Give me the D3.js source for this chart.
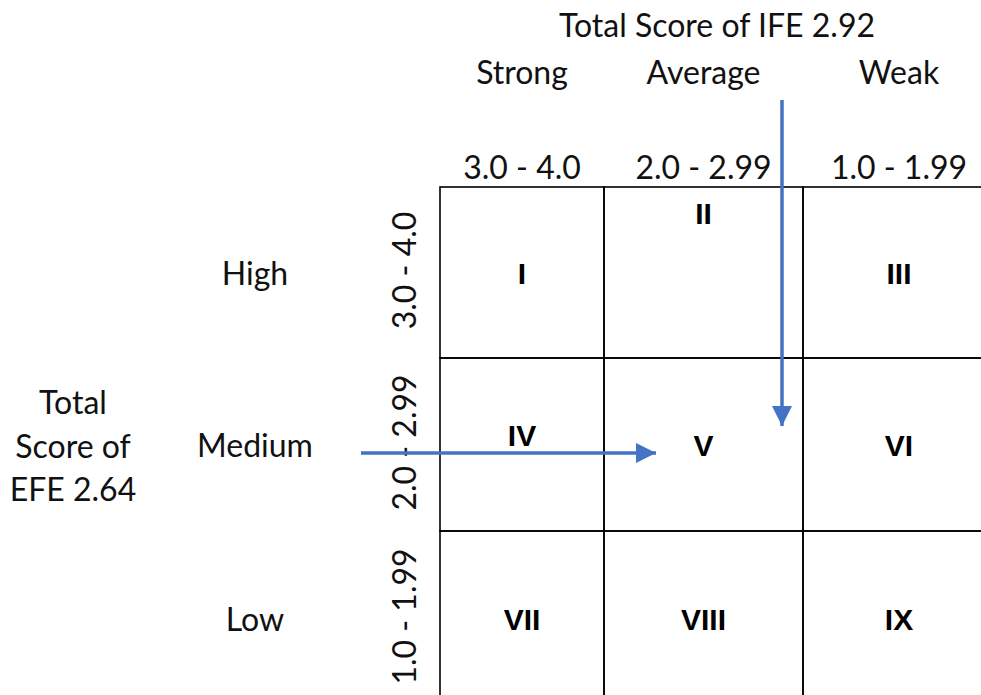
<!DOCTYPE html>
<html>
<head>
<meta charset="utf-8">
<script src="https://cdn.jsdelivr.net/npm/d3@7"></script>
<style>
  html, body { margin: 0; padding: 0; background: #fff; overflow: hidden; }
  svg { display: block; }
  .lbl { font-family: Lato, "Open Sans", sans-serif; font-size: 32px; fill: #111; }
  .num { font-family: "Liberation Sans", Arial, sans-serif; font-weight: bold; font-size: 30px; fill: #000; }
</style>
</head>
<body>
<svg id="chart" width="981" height="695"></svg>
<script>
// IFE (columns) and EFE (rows) bands
const colNames = ['Strong', 'Average', 'Weak'];
const colLow = [3.0, 2.0, 1.0];
const colLabels = ['3.0 - 4.0', '2.0 - 2.99', '1.0 - 1.99'];
const rowNames = ['High', 'Medium', 'Low'];
const rowLow = [3.0, 2.0, 1.0];
const rowLabels = ['3.0 - 4.0', '2.0 - 2.99', '1.0 - 1.99'];
const cellNames = [
  ['I', 'II', 'III'],
  ['IV', 'V', 'VI'],
  ['VII', 'VIII', 'IX']
];
const ifeTitle = 'Total Score of IFE 2.92';
const efeTitle = ['Total', 'Score of', 'EFE 2.64'];

const svg = d3.select('#chart');
const blue = '#4472c4';

// score -> pixel, one segment per band
const x = d3.scaleLinear().domain([4, 3, 2, 1]).range([440, 604, 803, 995]);
const y = d3.scaleLinear().domain([4, 3, 2, 1]).range([187, 358, 531, 706]);

const cells = [];
rowLow.forEach((r, i) => {
  colLow.forEach((c, j) => {
    cells.push({ r, c, i, j, name: cellNames[i][j] });
  });
});

// grid
svg.append('g').selectAll('rect')
  .data(cells)
  .join('rect')
  .attr('x', d => x(d.c + 1))
  .attr('y', d => y(d.r + 1))
  .attr('width', d => x(d.c) - x(d.c + 1))
  .attr('height', d => y(d.r) - y(d.r + 1))
  .attr('fill', 'none')
  .attr('stroke', '#000')
  .attr('stroke-width', 1.6);

// roman numerals; II sits at the top of its cell, IV a bit high
const numOffset = { 'II': -60, 'IV': -10 };
svg.append('g').selectAll('text')
  .data(cells)
  .join('text')
  .attr('class', 'num')
  .attr('text-anchor', 'middle')
  .attr('x', d => (x(d.c) + x(d.c + 1)) / 2)
  .attr('y', d => (y(d.r) + y(d.r + 1)) / 2 + 11 + (numOffset[d.name] || 0))
  .text(d => d.name);

// column headers
const colMid = d => (x(d) + x(d + 1)) / 2;
svg.append('g').selectAll('text')
  .data(colLow)
  .join('text')
  .attr('class', 'lbl')
  .attr('text-anchor', 'middle')
  .attr('x', d => colMid(d))
  .attr('y', 84)
  .text((d, k) => colNames[k]);

svg.append('g').selectAll('text')
  .data(colLow)
  .join('text')
  .attr('class', 'lbl')
  .attr('text-anchor', 'middle')
  .attr('x', d => colMid(d))
  .attr('y', 179)
  .text((d, k) => colLabels[k]);

svg.append('text')
  .attr('class', 'lbl')
  .attr('text-anchor', 'middle')
  .attr('x', 717)
  .attr('y', 37)
  .text(ifeTitle);

// row headers
const rowMid = d => (y(d) + y(d + 1)) / 2;
svg.append('g').selectAll('text')
  .data(rowLow)
  .join('text')
  .attr('class', 'lbl')
  .attr('text-anchor', 'middle')
  .attr('x', 255)
  .attr('y', d => rowMid(d) + 12)
  .text((d, k) => rowNames[k]);

svg.append('g').selectAll('text')
  .data(rowLow)
  .join('text')
  .attr('class', 'lbl')
  .attr('text-anchor', 'middle')
  .attr('transform', d => `translate(416,${rowMid(d) - 2}) rotate(-90)`)
  .text((d, k) => rowLabels[k]);

svg.append('g').selectAll('text')
  .data(efeTitle)
  .join('text')
  .attr('class', 'lbl')
  .attr('text-anchor', 'middle')
  .attr('x', 73)
  .attr('y', (d, k) => 414 + k * 43.5)
  .text(d => d);

// arrows
svg.append('defs').append('marker')
  .attr('id', 'head')
  .attr('viewBox', '0 0 10 10')
  .attr('refX', 10)
  .attr('refY', 5)
  .attr('markerUnits', 'userSpaceOnUse')
  .attr('markerWidth', 20)
  .attr('markerHeight', 20)
  .attr('orient', 'auto')
  .append('path')
  .attr('d', 'M0,0 L10,5 L0,10 Z')
  .attr('fill', blue);

const arrows = [
  { x1: 361, y1: 453, x2: 666, y2: 453 },
  { x1: 782, y1: 100, x2: 782, y2: 436 }
];
svg.append('g').selectAll('line')
  .data(arrows)
  .join('line')
  .attr('x1', d => d.x1)
  .attr('y1', d => d.y1)
  .attr('x2', d => d.x2 - (d.x2 - d.x1 ? 10 : 0))
  .attr('y2', d => d.y2 - (d.y2 - d.y1 ? 10 : 0))
  .attr('stroke', blue)
  .attr('stroke-width', 3.5)
  .attr('marker-end', 'url(#head)');
</script>
</body>
</html>
